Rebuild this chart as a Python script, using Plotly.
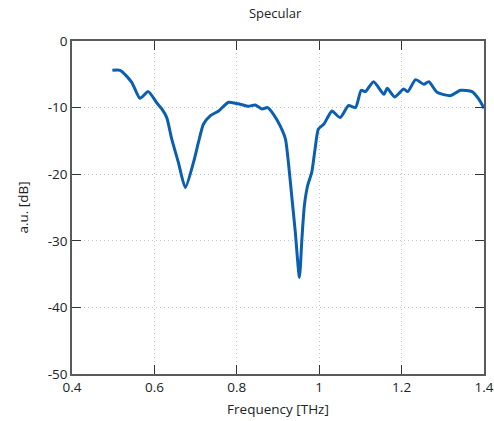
import plotly.graph_objects as go

freq = [0.498, 0.517, 0.545, 0.565, 0.585, 0.606, 0.618, 0.630, 0.642, 0.658, 0.675,
        0.695, 0.707, 0.719, 0.736, 0.756, 0.780, 0.808, 0.828, 0.845, 0.861, 0.875,
        0.889, 0.905, 0.918, 0.926, 0.934, 0.942, 0.952, 0.958, 0.964, 0.972, 0.982,
        0.990, 0.998, 1.011, 1.023, 1.031, 1.051, 1.071, 1.088, 1.102, 1.112, 1.132, 1.157,
        1.165, 1.183, 1.205, 1.215, 1.234, 1.254, 1.266, 1.286, 1.319, 1.343, 1.371,
        1.387, 1.400]
level = [-4.4, -4.4, -6.2, -8.6, -7.6, -9.3, -10.2, -11.5, -14.7, -18.2, -22.0,
         -18.2, -15.2, -12.5, -11.2, -10.5, -9.2, -9.5, -9.8, -9.6, -10.2, -10.0,
         -11.0, -12.7, -14.7, -18.7, -23.7, -28.7, -35.5, -29.7, -24.7, -21.7, -19.7,
         -16.2, -13.2, -12.5, -11.2, -10.5, -11.5, -9.7, -10.0, -7.4, -7.6, -6.1, -8.0,
         -7.1, -8.4, -7.2, -7.6, -5.8, -6.5, -6.1, -7.7, -8.2, -7.4, -7.6,
         -8.7, -10.1]

x_ticks = [0.4, 0.6, 0.8, 1.0, 1.2, 1.4]
x_labels = ["0.4", "0.6", "0.8", "1", "1.2", "1.4"]
y_ticks = [0, -10, -20, -30, -40, -50]
y_labels = ["0", "-10", "-20", "-30", "-40", "-50"]

fig = go.Figure()
fig.add_trace(go.Scatter(x=freq, y=level, mode="lines",
                         line=dict(color="#0b5fb0", width=3, shape="spline", smoothing=0.6),
                         showlegend=False, hoverinfo="skip"))

font = dict(family="Open Sans, Noto Sans, sans-serif", size=13.5, color="#222222")
axcommon = dict(showline=True, linecolor="#5a5a5a", linewidth=1.6, mirror="ticks",
                ticks="inside", ticklen=9, tickcolor="#333333", tickwidth=1.3,
                showgrid=True, gridcolor="#c4c4c4", griddash="1px,3px", gridwidth=1,
                zeroline=False, tickfont=font, automargin=False)

fig.update_layout(
    width=494, height=421,
    margin=dict(l=72, r=10, t=41, b=47, autoexpand=False),
    paper_bgcolor="white", plot_bgcolor="white",
    title=dict(text="Specular", x=0.493, xanchor="center", xref="paper", y=0.967, yanchor="middle",
               font=dict(family=font["family"], size=13, color="#222222")),
    xaxis=dict(range=[0.4, 1.4], tickvals=x_ticks, ticktext=x_labels,
               title=dict(text="Frequency [THz]", font=font, standoff=10), **axcommon),
    yaxis=dict(range=[-50, 0], tickvals=y_ticks, ticktext=y_labels,
               title=dict(text="a.u. [dB]", font=font, standoff=16), **axcommon),
)

fig.write_html("out.html", config={"displayModeBar": False},
               post_script="document.body.style.margin='0';document.body.style.overflow='hidden';")
